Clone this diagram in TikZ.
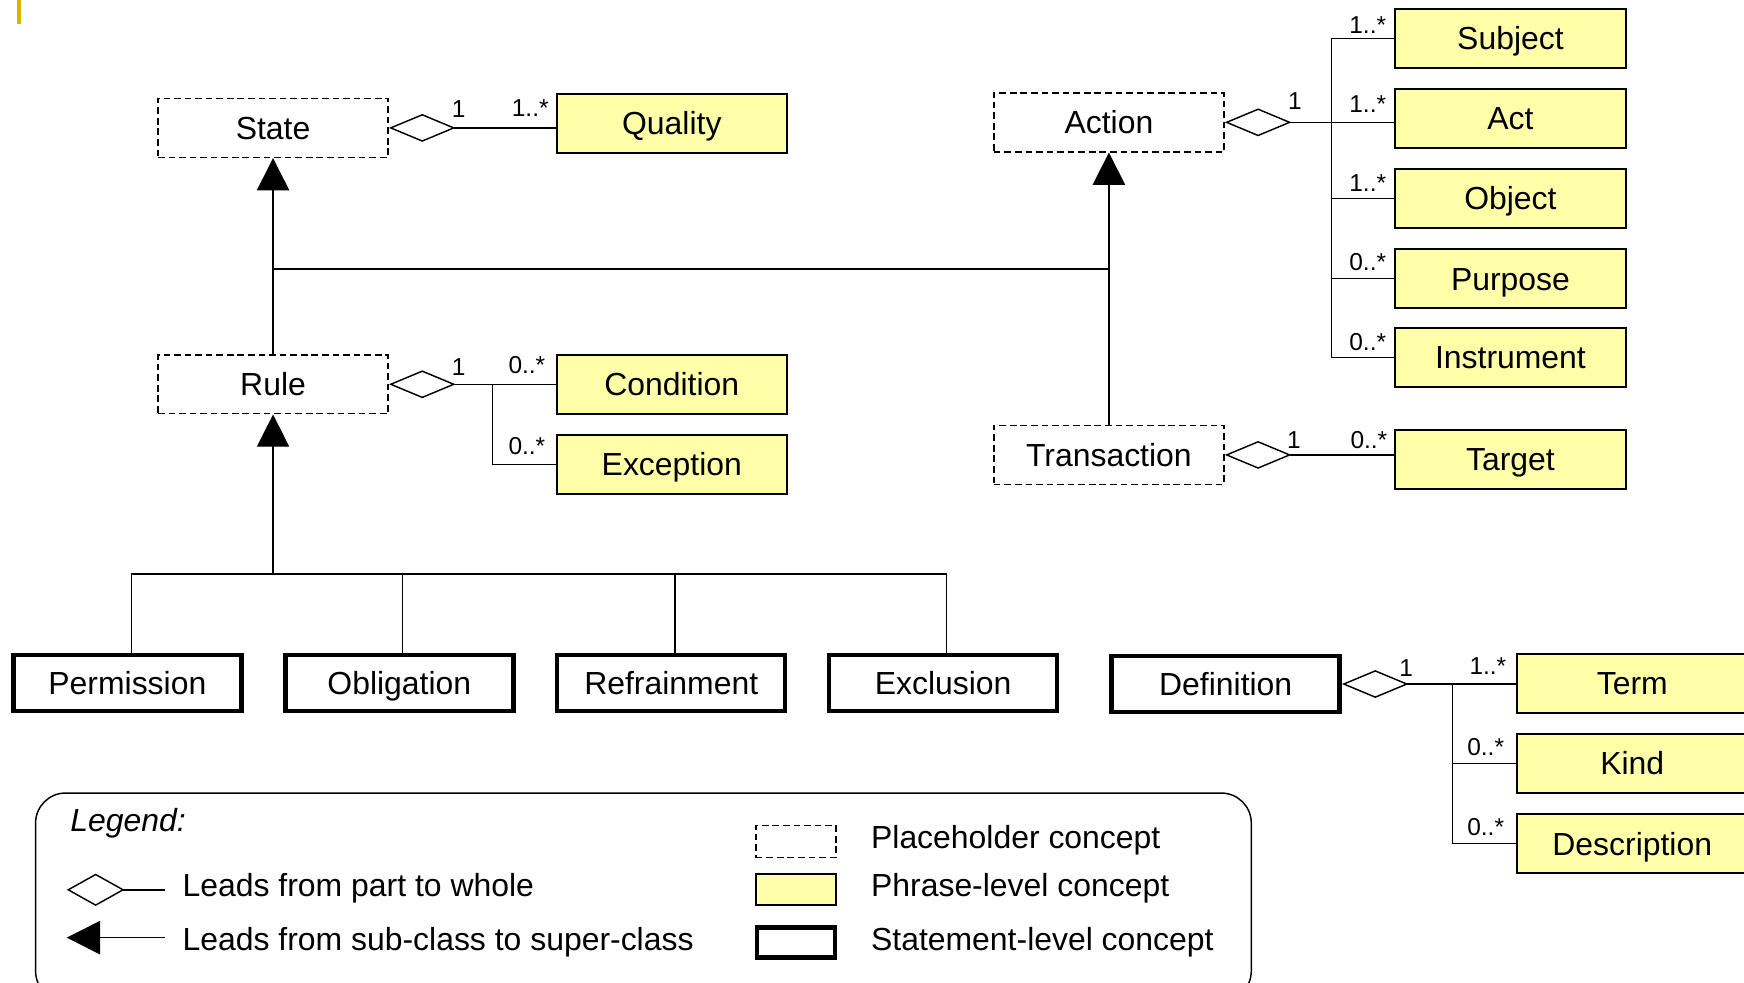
\documentclass[tikz,border=0pt]{standalone}
\usepackage{fontspec}
\setmainfont{Liberation Sans}
\usetikzlibrary{arrows.meta}
\definecolor{phrasefill}{RGB}{255,255,170}
\definecolor{markgold}{RGB}{228,176,0}

\begin{document}
\begin{tikzpicture}[x=1pt,y=-1pt,
  concept/.style={minimum width=207pt, minimum height=53pt, inner sep=0pt,
    text height=20.5pt, text depth=0pt,
    font=\fontsize{28.7}{34}\selectfont},
  placeholder/.style={concept, draw, line width=1.3pt, dash pattern=on 6pt off 3.5pt},
  phrase/.style={concept, draw, fill=phrasefill, line width=1.8pt},
  statement/.style={concept, draw, line width=4pt, minimum width=205pt, minimum height=50pt},
  link/.style={line width=1.3pt},
  whole/.style={link, -{Diamond[open, length=60pt, width=25pt]}},
  super/.style={link, -{Triangle[length=29pt, width=29pt]}},
  mult/.style={inner sep=0pt, anchor=base west, font=\fontsize{22}{26}\selectfont},
  legtext/.style={inner sep=0pt, anchor=base west, font=\fontsize{28.7}{34}\selectfont}
]
\useasboundingbox (0,0) rectangle (1568,883);
\fill[white] (0,0) rectangle (1568,883);

% small marker in the upper left corner
\fill[markgold] (15.5,0) rectangle (18.5,22);

% placeholder concepts
\node[placeholder] (State) at (245.5,115) {State};
\node[placeholder] (Rule) at (245.5,345.5) {Rule};
\node[placeholder] (Action) at (997,110) {Action};
\node[placeholder] (Transaction) at (997,409) {Transaction};

% phrase-level concepts
\node[phrase] (Quality) at (604,111) {Quality};
\node[phrase] (Condition) at (604,345.5) {Condition};
\node[phrase] (Exception) at (604,417.5) {Exception};
\node[phrase] (Subject) at (1358,34.5) {Subject};
\node[phrase] (Act) at (1358,106.5) {Act};
\node[phrase] (Object) at (1358,178.5) {Object};
\node[phrase] (Purpose) at (1358,250.5) {Purpose};
\node[phrase] (Instrument) at (1358,321.5) {Instrument};
\node[phrase] (Target) at (1358,413) {Target};
\node[phrase] (Term) at (1467.5,614.5) {Term};
\node[phrase] (Kind) at (1467.5,686.5) {Kind};
\node[phrase] (Description) at (1467.5,758.5) {Description};

% statement-level concepts
\node[statement] (Permission) at (114.5,614) {Permission};
\node[statement] (Obligation) at (359,614) {Obligation};
\node[statement] (Refrainment) at (603.5,614) {Refrainment};
\node[statement] (Exclusion) at (848,614) {Exclusion};
\node[statement] (Definition) at (1102,615) {Definition};

% State -- Quality
\draw[whole] (State.east -| Quality.west) -- (State.east);
\node[mult] at (406,106) {1};
\node[mult] at (460,105) {1..*};

% Action and its parts
\coordinate (abus) at (1197,0);
\draw[whole] (Action.east -| Act.west) -- (Action.east);
\draw[link] (Subject.west -| abus) -- (Instrument.west -| abus);
\draw[link] (Subject.west -| abus) -- (Subject.west);
\draw[link] (Object.west -| abus) -- (Object.west);
\draw[link] (Purpose.west -| abus) -- (Purpose.west);
\draw[link] (Instrument.west -| abus) -- (Instrument.west);
\node[mult] at (1158,98) {1};
\node[mult] at (1213,30) {1..*};
\node[mult] at (1213,101) {1..*};
\node[mult] at (1213,172) {1..*};
\node[mult] at (1213,243) {0..*};
\node[mult] at (1213,315) {0..*};

% Transaction -- Target
\draw[whole] (Transaction.east -| Target.west) -- (Transaction.east);
\node[mult] at (1157,403) {1};
\node[mult] at (1214,403) {0..*};

% Rule and its parts
\coordinate (rbus) at (443,0);
\draw[whole] (Rule.east -| Condition.west) -- (Rule.east);
\draw[link] (Rule.east -| rbus) |- (Exception.west);
\node[mult] at (406,338) {1};
\node[mult] at (457,336) {0..*};
\node[mult] at (457,409) {0..*};

% Definition and its parts
\coordinate (dbus) at (1306,0);
\draw[whole] (Definition.east -| Term.west) -- (Definition.east);
\draw[link] (Definition.east -| dbus) |- (Description.west);
\draw[link] (Kind.west -| dbus) -- (Kind.west);
\node[mult] at (1258,608) {1};
\node[mult] at (1321,606) {1..*};
\node[mult] at (1319,679) {0..*};
\node[mult] at (1319,751) {0..*};

% generalisations towards State and Action
\coordinate (sj) at (245.5,242);
\draw[super] (Rule.north) -- (State.south);
\draw[link] (sj) -- (sj -| Transaction.north);
\draw[super] (Transaction.north) -- (Action.south);

% generalisation of the statement kinds towards Rule
\coordinate (rj) at (245.5,516);
\draw[super] (rj) -- (Rule.south);
\draw[link] ([xshift=3.5pt]Permission.north) |- ([xshift=3pt]Exclusion.north |- rj)
  -- ([xshift=3pt]Exclusion.north);
\draw[link] ([xshift=3pt]Obligation.north) -- ([xshift=3pt]Obligation.north |- rj);
\draw[link] ([xshift=3.5pt]Refrainment.north) -- ([xshift=3.5pt]Refrainment.north |- rj);

% legend
\draw[link, rounded corners=27pt] (32,713) rectangle (1125,900);
\node[legtext, font=\itshape\fontsize{28.7}{34}\selectfont] (legtitle) at (63,748) {Legend:};
\coordinate (dTail) at (148,800);
\coordinate (dHead) at (60,800);
\draw[link, -{Diamond[open, length=52pt, width=29pt]}] (dTail) -- (dHead);
\node[legtext] (legA) at (164,806) {Leads from part to whole};
\coordinate (tTail) at (148,843);
\coordinate (tHead) at (60,843);
\draw[link, -{Triangle[length=30pt, width=30pt]}] (tTail) -- (tHead);
\node[legtext] (legB) at (164,855) {Leads from sub-class to super-class};

\node[placeholder, minimum width=72pt, minimum height=29pt] (kPh) at (715.5,756.5) {};
\node[phrase, minimum width=72pt, minimum height=28pt] (kPr) at (715.5,799.5) {};
\node[statement, minimum width=70pt, minimum height=27pt] (kSt) at (715.5,847.5) {};
\node[legtext] (legC) at (783,763) {Placeholder concept};
\node[legtext] (legD) at (783,806) {Phrase-level concept};
\node[legtext] (legE) at (783,855) {Statement-level concept};
\end{tikzpicture}
\end{document}
